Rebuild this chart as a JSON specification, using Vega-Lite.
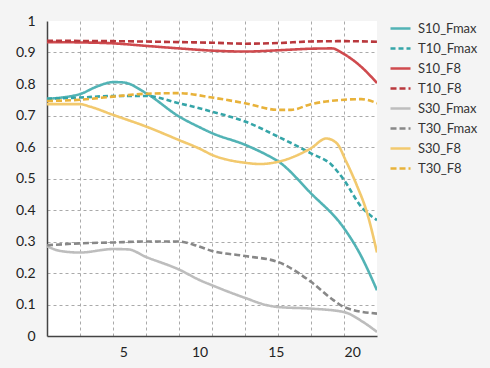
{
  "$schema": "https://vega.github.io/schema/vega-lite/v6.json",
  "width": 330,
  "height": 315,
  "autosize": "none",
  "padding": {"left": 47, "top": 21, "right": 113, "bottom": 32},
  "background": "#f4f4f4",
  "config": {
    "font": "Lato",
    "view": {"fill": "white", "stroke": null}
  },
  "data": {
    "values": [
      {"s": "S10_F8", "x": 0, "y": 0.933}, {"s": "S10_F8", "x": 2.16, "y": 0.932}, {"s": "S10_F8", "x": 4.33, "y": 0.929}, {"s": "S10_F8", "x": 6.49, "y": 0.921}, {"s": "S10_F8", "x": 8.65, "y": 0.913}, {"s": "S10_F8", "x": 10.82, "y": 0.906}, {"s": "S10_F8", "x": 12.98, "y": 0.903}, {"s": "S10_F8", "x": 15.14, "y": 0.907}, {"s": "S10_F8", "x": 17.3, "y": 0.912}, {"s": "S10_F8", "x": 18.67, "y": 0.913}, {"s": "S10_F8", "x": 19.47, "y": 0.895}, {"s": "S10_F8", "x": 20.7, "y": 0.85}, {"s": "S10_F8", "x": 21.63, "y": 0.803},
      {"s": "T10_F8", "x": 0, "y": 0.937}, {"s": "T10_F8", "x": 4.33, "y": 0.936}, {"s": "T10_F8", "x": 8.65, "y": 0.933}, {"s": "T10_F8", "x": 10.82, "y": 0.931}, {"s": "T10_F8", "x": 12.98, "y": 0.928}, {"s": "T10_F8", "x": 15.14, "y": 0.93}, {"s": "T10_F8", "x": 17.3, "y": 0.935}, {"s": "T10_F8", "x": 19.47, "y": 0.936}, {"s": "T10_F8", "x": 21.63, "y": 0.934},
      {"s": "S10_Fmax", "x": 0, "y": 0.753}, {"s": "S10_Fmax", "x": 2.16, "y": 0.768}, {"s": "S10_Fmax", "x": 3.27, "y": 0.792}, {"s": "S10_Fmax", "x": 4.33, "y": 0.806}, {"s": "S10_Fmax", "x": 5.0, "y": 0.805}, {"s": "S10_Fmax", "x": 6.49, "y": 0.771}, {"s": "S10_Fmax", "x": 8.65, "y": 0.697}, {"s": "S10_Fmax", "x": 10.03, "y": 0.662}, {"s": "S10_Fmax", "x": 10.82, "y": 0.644}, {"s": "S10_Fmax", "x": 12.98, "y": 0.607}, {"s": "S10_Fmax", "x": 14.4, "y": 0.575}, {"s": "S10_Fmax", "x": 15.14, "y": 0.555}, {"s": "S10_Fmax", "x": 17.3, "y": 0.453}, {"s": "S10_Fmax", "x": 19.47, "y": 0.342}, {"s": "S10_Fmax", "x": 20.5, "y": 0.262}, {"s": "S10_Fmax", "x": 21.63, "y": 0.145},
      {"s": "T10_Fmax", "x": 0, "y": 0.753}, {"s": "T10_Fmax", "x": 2.16, "y": 0.757}, {"s": "T10_Fmax", "x": 4.33, "y": 0.762}, {"s": "T10_Fmax", "x": 6.49, "y": 0.762}, {"s": "T10_Fmax", "x": 8.65, "y": 0.739}, {"s": "T10_Fmax", "x": 10.82, "y": 0.712}, {"s": "T10_Fmax", "x": 12.98, "y": 0.681}, {"s": "T10_Fmax", "x": 15.14, "y": 0.633}, {"s": "T10_Fmax", "x": 17.3, "y": 0.58}, {"s": "T10_Fmax", "x": 18.66, "y": 0.543}, {"s": "T10_Fmax", "x": 19.47, "y": 0.495}, {"s": "T10_Fmax", "x": 20.6, "y": 0.41}, {"s": "T10_Fmax", "x": 21.63, "y": 0.368},
      {"s": "S30_Fmax", "x": 0, "y": 0.285}, {"s": "S30_Fmax", "x": 0.87, "y": 0.27}, {"s": "S30_Fmax", "x": 2.16, "y": 0.265}, {"s": "S30_Fmax", "x": 4.33, "y": 0.276}, {"s": "S30_Fmax", "x": 5.31, "y": 0.275}, {"s": "S30_Fmax", "x": 6.49, "y": 0.251}, {"s": "S30_Fmax", "x": 8.65, "y": 0.211}, {"s": "S30_Fmax", "x": 10.03, "y": 0.177}, {"s": "S30_Fmax", "x": 10.82, "y": 0.161}, {"s": "S30_Fmax", "x": 12.98, "y": 0.121}, {"s": "S30_Fmax", "x": 14.4, "y": 0.098}, {"s": "S30_Fmax", "x": 15.14, "y": 0.092}, {"s": "S30_Fmax", "x": 17.3, "y": 0.087}, {"s": "S30_Fmax", "x": 19.47, "y": 0.076}, {"s": "S30_Fmax", "x": 20.7, "y": 0.045}, {"s": "S30_Fmax", "x": 21.63, "y": 0.013},
      {"s": "T30_Fmax", "x": 0, "y": 0.288}, {"s": "T30_Fmax", "x": 2.16, "y": 0.294}, {"s": "T30_Fmax", "x": 4.33, "y": 0.297}, {"s": "T30_Fmax", "x": 6.49, "y": 0.3}, {"s": "T30_Fmax", "x": 8.65, "y": 0.3}, {"s": "T30_Fmax", "x": 9.6, "y": 0.29}, {"s": "T30_Fmax", "x": 10.82, "y": 0.27}, {"s": "T30_Fmax", "x": 12.98, "y": 0.254}, {"s": "T30_Fmax", "x": 15.14, "y": 0.235}, {"s": "T30_Fmax", "x": 17.3, "y": 0.172}, {"s": "T30_Fmax", "x": 18.77, "y": 0.114}, {"s": "T30_Fmax", "x": 19.47, "y": 0.092}, {"s": "T30_Fmax", "x": 21.63, "y": 0.071},
      {"s": "S30_F8", "x": 0, "y": 0.736}, {"s": "S30_F8", "x": 2.16, "y": 0.736}, {"s": "S30_F8", "x": 2.83, "y": 0.728}, {"s": "S30_F8", "x": 4.33, "y": 0.702}, {"s": "S30_F8", "x": 6.49, "y": 0.665}, {"s": "S30_F8", "x": 8.65, "y": 0.622}, {"s": "S30_F8", "x": 10.03, "y": 0.594}, {"s": "S30_F8", "x": 10.82, "y": 0.575}, {"s": "S30_F8", "x": 12.98, "y": 0.55}, {"s": "S30_F8", "x": 13.96, "y": 0.546}, {"s": "S30_F8", "x": 15.14, "y": 0.553}, {"s": "S30_F8", "x": 17.3, "y": 0.596}, {"s": "S30_F8", "x": 18.3, "y": 0.627}, {"s": "S30_F8", "x": 18.99, "y": 0.612}, {"s": "S30_F8", "x": 19.6, "y": 0.555}, {"s": "S30_F8", "x": 20.3, "y": 0.479}, {"s": "S30_F8", "x": 20.96, "y": 0.394}, {"s": "S30_F8", "x": 21.63, "y": 0.265},
      {"s": "T30_F8", "x": 0, "y": 0.746}, {"s": "T30_F8", "x": 2.16, "y": 0.75}, {"s": "T30_F8", "x": 4.33, "y": 0.76}, {"s": "T30_F8", "x": 6.49, "y": 0.769}, {"s": "T30_F8", "x": 8.65, "y": 0.771}, {"s": "T30_F8", "x": 10.82, "y": 0.757}, {"s": "T30_F8", "x": 12.98, "y": 0.739}, {"s": "T30_F8", "x": 15.14, "y": 0.718}, {"s": "T30_F8", "x": 16.0, "y": 0.718}, {"s": "T30_F8", "x": 17.3, "y": 0.736}, {"s": "T30_F8", "x": 19.47, "y": 0.75}, {"s": "T30_F8", "x": 20.6, "y": 0.752}, {"s": "T30_F8", "x": 21.63, "y": 0.739}
    ]
  },
  "mark": {"type": "line", "interpolate": "monotone", "strokeWidth": 2.6, "clip": true},
  "encoding": {
    "x": {
      "field": "x", "type": "quantitative",
      "scale": {"domain": [0, 21.63], "nice": false, "zero": false},
      "axis": {
        "title": null,
        "values": [2.163, 4.326, 5, 6.489, 8.652, 10, 10.815, 12.978, 15, 15.141, 17.304, 19.467, 20],
        "labelExpr": "datum.value % 5 == 0 ? datum.label : ''",
        "labelOverlap": false, "labelFlush": false,
        "labelFontSize": 14, "labelColor": "#222", "labelPadding": 9,
        "ticks": false,
        "domainColor": "#444", "domainWidth": 1.5,
        "grid": true, "gridColor": "#aaaaaa", "gridDash": [3, 3], "gridWidth": 1,
        "gridOpacity": {"condition": {"test": "datum.value % 5 == 0", "value": 0}, "value": 1}
      }
    },
    "y": {
      "field": "y", "type": "quantitative",
      "scale": {"domain": [0, 1], "nice": false},
      "axis": {
        "title": null,
        "values": [0, 0.1, 0.2, 0.3, 0.4, 0.5, 0.6, 0.7, 0.8, 0.9, 1],
        "labelExpr": "datum.value == 0 ? '0' : datum.value == 1 ? '1' : format(datum.value, '.1f')",
        "labelFontSize": 14, "labelColor": "#222", "labelPadding": 12,
        "ticks": false,
        "domainColor": "#444", "domainWidth": 1.5,
        "grid": true, "gridColor": "#aaaaaa", "gridDash": [3, 3], "gridWidth": 1,
        "gridOpacity": {"condition": {"test": "datum.value > 0.95 || datum.value < 0.05", "value": 0}, "value": 1}
      }
    },
    "color": {
      "field": "s", "type": "nominal",
      "scale": {
        "domain": ["S10_Fmax", "T10_Fmax", "S10_F8", "T10_F8", "S30_Fmax", "T30_Fmax", "S30_F8", "T30_F8"],
        "range": ["#52b3b5", "#35a5a8", "#cf4a4e", "#b9383d", "#bdbdbd", "#888888", "#f2c96e", "#e8b23a"]
      },
      "legend": {
        "title": null,
        "orient": "none", "legendX": 342, "legendY": -4,
        "symbolType": "stroke", "symbolSize": 400, "symbolStrokeWidth": 2.5,
        "labelFontSize": 13, "labelColor": "#333", "labelOffset": 6,
        "rowPadding": 1, "padding": 0
      }
    },
    "strokeDash": {
      "field": "s", "type": "nominal",
      "scale": {
        "domain": ["S10_Fmax", "T10_Fmax", "S10_F8", "T10_F8", "S30_Fmax", "T30_Fmax", "S30_F8", "T30_F8"],
        "range": [[1, 0], [5, 3], [1, 0], [6, 3], [1, 0], [6, 3], [1, 0], [6, 3]]
      }
    },
    "order": {"field": "x"}
  }
}
